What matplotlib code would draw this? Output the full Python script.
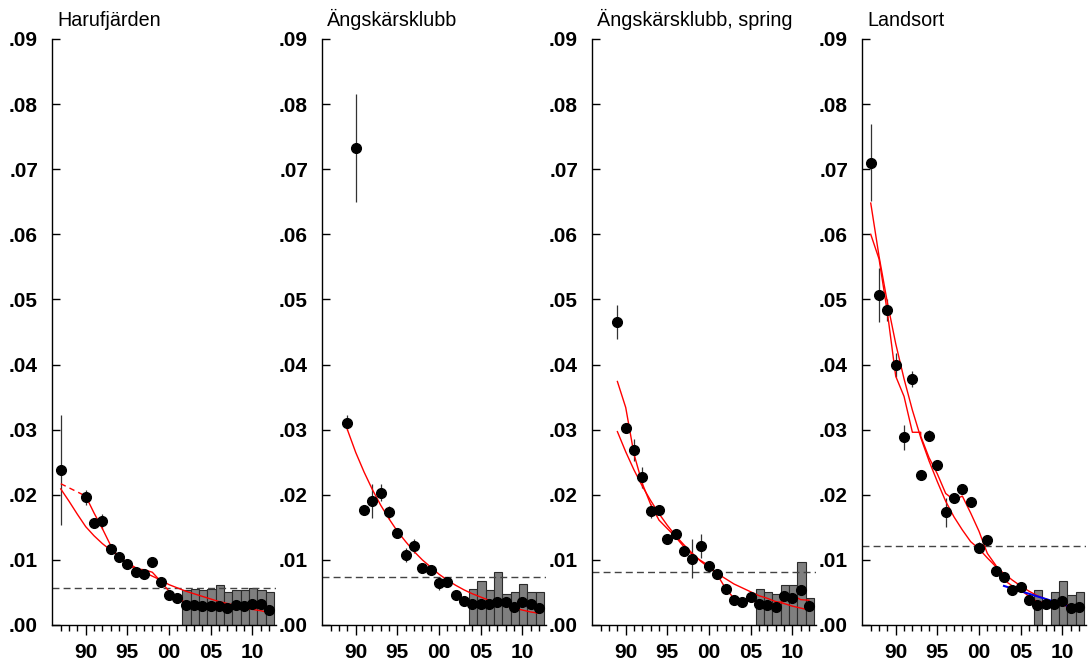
import numpy as np
import matplotlib
matplotlib.use("Agg")
import matplotlib.pyplot as plt

plt.rcParams['font.family'] = ['Liberation Sans', 'DejaVu Sans']

# --- Harufjärden ---
haru_years = [87, 90, 91, 92, 93, 94, 95, 96, 97, 98, 99, 100, 101, 102, 103, 104, 105, 106, 107, 108, 109, 110, 111, 112]
haru_vals = [0.0238, 0.0196, 0.0156, 0.0159, 0.0116, 0.0105, 0.0094, 0.0081, 0.0079, 0.0097, 0.0066, 0.0046,
             0.0041, 0.0031, 0.0030, 0.0029, 0.0029, 0.0029, 0.0026, 0.0031, 0.0029, 0.0033, 0.0032, 0.0023]
haru_err = [0.0084, 0.0011, 0.0004, 0.0012, 0.0004, 0.0004, 0.0004, 0.0004, 0.0004, 0.0004, 0.0004, 0.0004,
            0.0004, 0.0004, 0.0004, 0.0004, 0.0004, 0.0004, 0.0004, 0.0004, 0.0004, 0.0004, 0.0004, 0.0004]
haru_bar_years = [102, 103, 104, 105, 106, 107, 108, 109, 110, 111, 112]
haru_bars = [0.0054, 0.0056, 0.0053, 0.0055, 0.0061, 0.0051, 0.0054, 0.0054, 0.0057, 0.0053, 0.0050]
haru_ref = 0.0057
haru_exp_years = list(range(87, 113))
haru_exp = [0.0209, 0.0190, 0.0170, 0.0151, 0.0137, 0.0125, 0.0115, 0.0105, 0.0096, 0.0088, 0.0081, 0.0075, 0.0069,
            0.0062, 0.0057, 0.0052, 0.0048, 0.0044, 0.0040, 0.0036, 0.0033, 0.0030, 0.0027, 0.0024, 0.0022, 0.0019]
haru_smooth_gap = [87, 90]
haru_smooth_gap_vals = [0.0217, 0.0198]
haru_smooth_years = [90, 91, 92, 93, 94, 95, 96, 97, 98, 99, 100, 101, 102, 103, 104, 105, 106, 107, 108, 109, 110, 111, 112]
haru_smooth = [0.0198, 0.0172, 0.0148, 0.0122, 0.0103, 0.0093, 0.0086, 0.0085, 0.0081, 0.0067, 0.0052, 0.0042,
               0.0034, 0.0031, 0.0030, 0.0030, 0.0030, 0.0029, 0.0029, 0.0029, 0.0029, 0.0028, 0.0026]
haru_trend_years = [102, 112]
haru_trend = [0.0033, 0.0026]

# --- Ängskärsklubb ---
angs_years = list(range(89, 113))
angs_vals = [0.0311, 0.0733, 0.0177, 0.0190, 0.0203, 0.0173, 0.0141, 0.0108, 0.0121, 0.0087, 0.0085, 0.0064,
             0.0066, 0.0046, 0.0037, 0.0032, 0.0033, 0.0032, 0.0036, 0.0035, 0.0028, 0.0035, 0.0032, 0.0026]
angs_err = [0.0011, 0.0083, 0.0004, 0.0026, 0.0013, 0.0010, 0.0004, 0.0011, 0.0011, 0.0004, 0.0004, 0.0010,
            0.0004, 0.0004, 0.0004, 0.0004, 0.0004, 0.0004, 0.0004, 0.0004, 0.0004, 0.0004, 0.0004, 0.0004]
angs_bar_years = [104, 105, 106, 107, 108, 109, 110, 111, 112]
angs_bars = [0.0055, 0.0068, 0.0054, 0.0081, 0.0047, 0.0051, 0.0063, 0.0051, 0.0051]
angs_ref = 0.0074
angs_exp_years = list(range(89, 113))
angs_exp = [0.0300, 0.0265, 0.0235, 0.0208, 0.0184, 0.0163, 0.0144, 0.0128, 0.0113, 0.0100, 0.0089, 0.0078,
            0.0069, 0.0061, 0.0054, 0.0048, 0.0043, 0.0038, 0.0033, 0.0030, 0.0026, 0.0023, 0.0020, 0.0018]
angs_trend_years = [103, 112]
angs_trend = [0.0036, 0.0029]

# --- Ängskärsklubb, spring ---
spr_years = list(range(89, 113))
spr_vals = [0.0466, 0.0303, 0.0269, 0.0227, 0.0175, 0.0177, 0.0132, 0.0139, 0.0113, 0.0102, 0.0121, 0.0091,
            0.0079, 0.0056, 0.0038, 0.0036, 0.0043, 0.0032, 0.0031, 0.0027, 0.0044, 0.0042, 0.0054, 0.0029]
spr_err = [0.0026, 0.0004, 0.0017, 0.0016, 0.0011, 0.0004, 0.0004, 0.0007, 0.0004, 0.0030, 0.0018, 0.0004,
           0.0004, 0.0004, 0.0004, 0.0004, 0.0004, 0.0004, 0.0004, 0.0004, 0.0004, 0.0004, 0.0004, 0.0004]
spr_bar_years = [106, 107, 108, 109, 110, 111, 112]
spr_bars = [0.0055, 0.0051, 0.0047, 0.0062, 0.0061, 0.0096, 0.0041]
spr_ref = 0.0082
spr_exp_years = list(range(89, 113))
spr_exp = [0.0297, 0.0266, 0.0238, 0.0213, 0.0191, 0.0171, 0.0153, 0.0137, 0.0123, 0.0110, 0.0098, 0.0088,
           0.0079, 0.0071, 0.0063, 0.0057, 0.0051, 0.0045, 0.0041, 0.0036, 0.0033, 0.0029, 0.0026, 0.0023]
spr_smooth_years = list(range(89, 113))
spr_smooth = [0.0374, 0.0334, 0.0262, 0.0217, 0.0185, 0.0161, 0.0148, 0.0135, 0.0120, 0.0108, 0.0099, 0.0091,
              0.0077, 0.0056, 0.0041, 0.0038, 0.0037, 0.0035, 0.0029, 0.0034, 0.0036, 0.0046, 0.0039, 0.0038]

# --- Landsort ---
land_years = list(range(87, 113))
land_vals = [0.0710, 0.0507, 0.0484, 0.0399, 0.0288, 0.0378, 0.0230, 0.0291, 0.0245, 0.0173, 0.0195, 0.0209,
             0.0189, 0.0119, 0.0131, 0.0083, 0.0073, 0.0053, 0.0058, 0.0038, 0.0030, 0.0032, 0.0032, 0.0037,
             0.0026, 0.0028]
land_err = [0.0059, 0.0042, 0.0017, 0.0018, 0.0019, 0.0012, 0.0004, 0.0008, 0.0007, 0.0022, 0.0007, 0.0004,
            0.0004, 0.0008, 0.0004, 0.0004, 0.0004, 0.0004, 0.0004, 0.0004, 0.0004, 0.0004, 0.0004, 0.0004,
            0.0004, 0.0004]
land_bar_years = [107, 109, 110, 111, 112]
land_bars = [0.0053, 0.0051, 0.0068, 0.0046, 0.0050]
land_ref = 0.0122
land_exp_years = list(range(87, 113))
land_exp = [0.0648, 0.0566, 0.0495, 0.0432, 0.0378, 0.0330, 0.0288, 0.0252, 0.0220, 0.0190, 0.0166, 0.0146,
            0.0128, 0.0117, 0.0103, 0.0090, 0.0079, 0.0069, 0.0060, 0.0052, 0.0045, 0.0040, 0.0035, 0.0031,
            0.0027, 0.0025]
land_smooth_years = [87, 88, 89, 90, 91, 92, 93, 93, 94, 95, 96, 97, 98, 99, 100, 101, 102, 103, 104, 105, 106,
                     107, 108, 109, 110, 111, 112]
land_smooth = [0.0600, 0.0562, 0.0480, 0.0382, 0.0351, 0.0296, 0.0296, 0.0290, 0.0257, 0.0232, 0.0202, 0.0192,
               0.0198, 0.0172, 0.0144, 0.0110, 0.0092, 0.0069, 0.0060, 0.0054, 0.0044, 0.0036, 0.0034, 0.0033,
               0.0032, 0.0030, 0.0028]
land_trend_years = [103, 112]
land_trend = [0.0060, 0.0024]

yticks = [0.0, 0.01, 0.02, 0.03, 0.04, 0.05, 0.06, 0.07, 0.08, 0.09]
ytick_labels = ['.00', '.01', '.02', '.03', '.04', '.05', '.06', '.07', '.08', '.09']
xticks = [90, 95, 100, 105, 110]
xtick_labels = ['90', '95', '00', '05', '10']


def draw_panel(ax, title, years, vals, err, bar_years, bars, ref):
    ax.bar(np.array(bar_years) + 0.1, bars, width=1.0, color='#7f7f7f', edgecolor='#2b2b2b',
           linewidth=0.8, zorder=1)
    ax.axhline(ref, color='#444444', linestyle=(0, (5, 3)), linewidth=1.0, zorder=2)
    ax.errorbar(years, vals, yerr=err, fmt='none', ecolor='#333333', elinewidth=0.9, zorder=3)
    ax.plot(years, vals, 'o', color='black', markersize=7, zorder=5)

    ax.set_xlim(85.95, 112.85)
    ax.set_ylim(0, 0.09)
    ax.spines['top'].set_visible(False)
    ax.spines['right'].set_visible(False)
    ax.spines['left'].set_linewidth(1.0)
    ax.spines['bottom'].set_linewidth(1.0)
    ax.set_yticks(yticks)
    ax.set_yticklabels(ytick_labels, fontsize=15, fontweight='bold')
    ax.set_xticks(xticks)
    ax.set_xticklabels(xtick_labels, fontsize=15, fontweight='bold')
    ax.set_xticks(range(87, 113), minor=True)
    ax.tick_params(axis='y', direction='in', length=6, width=1, pad=10)
    ax.tick_params(axis='x', which='major', direction='out', length=7, width=1, pad=6)
    ax.tick_params(axis='x', which='minor', direction='out', length=4.5, width=1)
    ax.annotate(title, xy=(0.022, 1.0), xycoords='axes fraction', xytext=(0, 9),
                textcoords='offset points', fontsize=14.2, ha='left', va='baseline')
    ax.patch.set_visible(False)


fig = plt.figure(figsize=(10.89, 6.64), dpi=100)
axes = []
for i in range(4):
    axes.append(fig.add_axes([(52 + 270 * i) / 1089, 39 / 664, 224 / 1089, 586 / 664]))

ax = axes[0]
draw_panel(ax, 'Harufjärden', haru_years, haru_vals, haru_err, haru_bar_years, haru_bars, haru_ref)
ax.plot(haru_exp_years, haru_exp, color='red', lw=1.0, zorder=4)
ax.plot(haru_smooth_gap, haru_smooth_gap_vals, color='red', lw=1.0, linestyle=(0, (4, 3)), zorder=4)
ax.plot(haru_smooth_years, haru_smooth, color='red', lw=1.0, zorder=4)
ax.plot(haru_trend_years, haru_trend, color='black', lw=1.8, zorder=4)

ax = axes[1]
draw_panel(ax, 'Ängskärsklubb', angs_years, angs_vals, angs_err, angs_bar_years, angs_bars, angs_ref)
ax.plot(angs_exp_years, angs_exp, color='red', lw=1.0, zorder=4)
ax.plot(angs_trend_years, angs_trend, color='#0000ee', lw=1.8, zorder=4)

ax = axes[2]
draw_panel(ax, 'Ängskärsklubb, spring', spr_years, spr_vals, spr_err, spr_bar_years, spr_bars, spr_ref)
ax.plot(spr_exp_years, spr_exp, color='red', lw=1.0, zorder=4)
ax.plot(spr_smooth_years, spr_smooth, color='red', lw=1.0, zorder=4)

ax = axes[3]
draw_panel(ax, 'Landsort', land_years, land_vals, land_err, land_bar_years, land_bars, land_ref)
ax.plot(land_exp_years, land_exp, color='red', lw=1.0, zorder=4)
ax.plot(land_smooth_years, land_smooth, color='red', lw=1.0, zorder=4)
ax.plot(land_trend_years, land_trend, color='#0000ee', lw=1.5, zorder=4)

fig.savefig('out.png', dpi=100)
